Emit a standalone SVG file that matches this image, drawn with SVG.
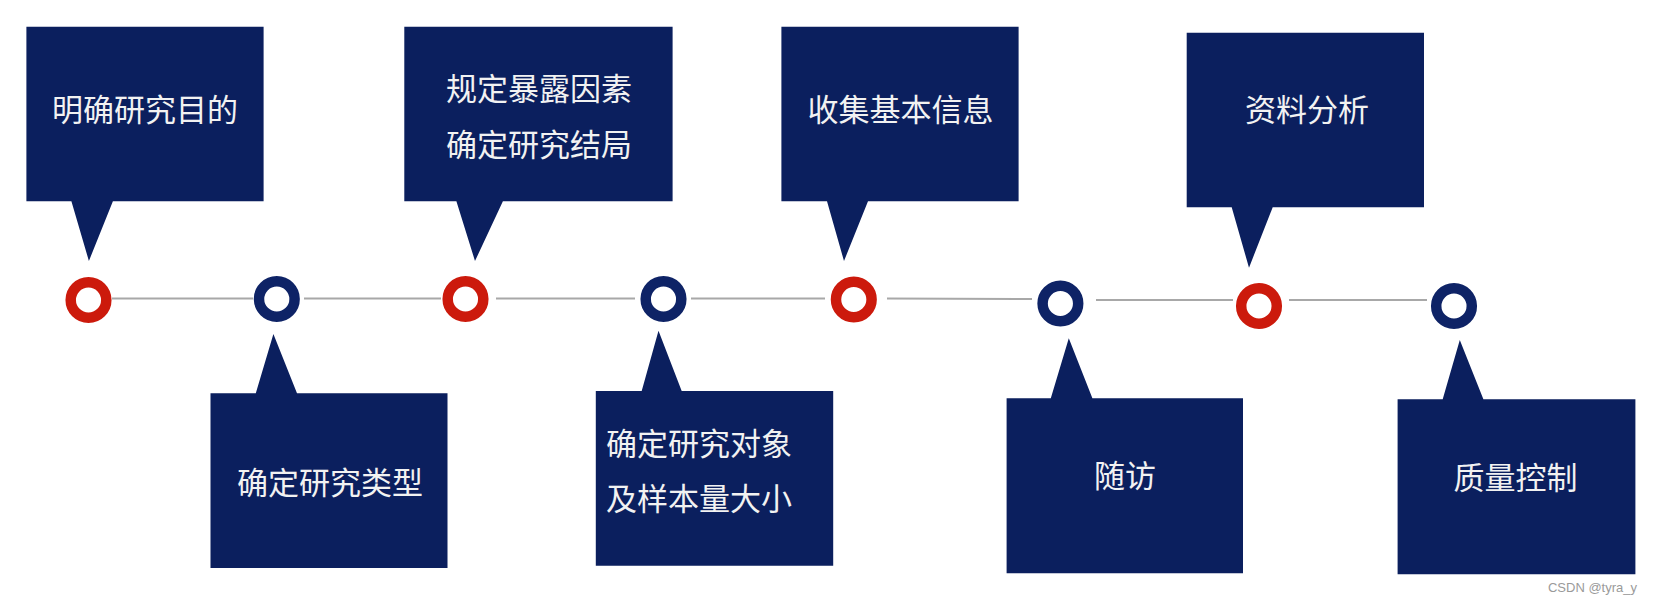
<svg xmlns="http://www.w3.org/2000/svg" width="1653" height="603" viewBox="0 0 1653 603">
  <style>
    .box { fill: #0b1f5e; }
    .lbl { fill: #f2f2f2; font-family: "Noto Sans CJK SC", "Noto Sans", sans-serif; font-size: 31px; }
    .mid { text-anchor: middle; }
    .red { fill: none; stroke: #cc1a0c; stroke-width: 10.5; }
    .blue { fill: none; stroke: #0e2366; stroke-width: 10.5; }
    .conn { stroke: #a8a8a8; stroke-width: 2; fill: none; }
    .wm { fill: #9a9a9a; font-family: "Liberation Sans", Arial, sans-serif; font-size: 13px; text-anchor: end; }
  </style>
  <rect width="1653" height="603" fill="#ffffff"/>

  <g id="connectors">
    <line class="conn" x1="112" y1="298.5" x2="253" y2="298.5"/>
    <line class="conn" x1="304" y1="298.5" x2="441" y2="298.5"/>
    <line class="conn" x1="496" y1="298.5" x2="635" y2="298.5"/>
    <line class="conn" x1="691" y1="298.5" x2="825" y2="298.5"/>
    <line class="conn" x1="887" y1="298.5" x2="1032" y2="299"/>
    <line class="conn" x1="1096" y1="300" x2="1233" y2="300"/>
    <line class="conn" x1="1289" y1="300" x2="1427" y2="300"/>
  </g>

  <g id="ring1"><circle class="red" cx="88.5" cy="300" r="17.8"/></g>
  <g id="ring2"><circle class="blue" cx="276.8" cy="299" r="17.8"/></g>
  <g id="ring3"><circle class="red" cx="465.5" cy="299" r="17.8"/></g>
  <g id="ring4"><circle class="blue" cx="663.5" cy="299" r="17.8"/></g>
  <g id="ring5"><circle class="red" cx="853.8" cy="299.5" r="17.8"/></g>
  <g id="ring6"><circle class="blue" cx="1060.4" cy="303.5" r="17.8"/></g>
  <g id="ring7"><circle class="red" cx="1259" cy="306" r="17.8"/></g>
  <g id="ring8"><circle class="blue" cx="1454" cy="306" r="17.8"/></g>

  <g id="node1">
    <path class="box" d="M26.4 26.7 H263.6 V201.3 H112.9 L88.9 261 L71.4 201.3 H26.4 Z"/>
    <text class="lbl mid" x="145" y="121">明确研究目的</text>
  </g>
  <g id="node2">
    <path class="box" d="M210.5 393.3 H255.8 L273.4 334 L297 393.3 H447.5 V568 H210.5 Z"/>
    <text class="lbl mid" x="330" y="494">确定研究类型</text>
  </g>
  <g id="node3">
    <path class="box" d="M404.3 26.7 H672.6 V201.3 H502.9 L475 261 L456.4 201.3 H404.3 Z"/>
    <text class="lbl mid" x="539" y="99.5">规定暴露因素</text>
    <text class="lbl mid" x="539" y="155.5">确定研究结局</text>
  </g>
  <g id="node4">
    <path class="box" d="M595.8 391 H641.7 L658.5 330.7 L681.7 391 H833.2 V565.7 H595.8 Z"/>
    <text class="lbl" x="606" y="455">确定研究对象</text>
    <text class="lbl" x="606" y="510">及样本量大小</text>
  </g>
  <g id="node5">
    <path class="box" d="M781.4 26.7 H1018.6 V201.3 H868 L844 261 L827 201.3 H781.4 Z"/>
    <text class="lbl mid" x="900.5" y="121">收集基本信息</text>
  </g>
  <g id="node6">
    <path class="box" d="M1006.6 398.3 H1050.8 L1068.8 338.3 L1092.4 398.3 H1243 V573.3 H1006.6 Z"/>
    <text class="lbl mid" x="1125" y="487">随访</text>
  </g>
  <g id="node7">
    <path class="box" d="M1186.7 32.7 H1424 V207.3 H1272.7 L1249 267.7 L1231.7 207.3 H1186.7 Z"/>
    <text class="lbl mid" x="1307" y="120.5">资料分析</text>
  </g>
  <g id="node8">
    <path class="box" d="M1397.6 399.3 H1442.7 L1459.8 340 L1483.4 399.3 H1635.4 V574.3 H1397.6 Z"/>
    <text class="lbl mid" x="1515.5" y="489">质量控制</text>
  </g>

  <text class="wm" x="1637" y="592">CSDN @tyra_y</text>
</svg>
